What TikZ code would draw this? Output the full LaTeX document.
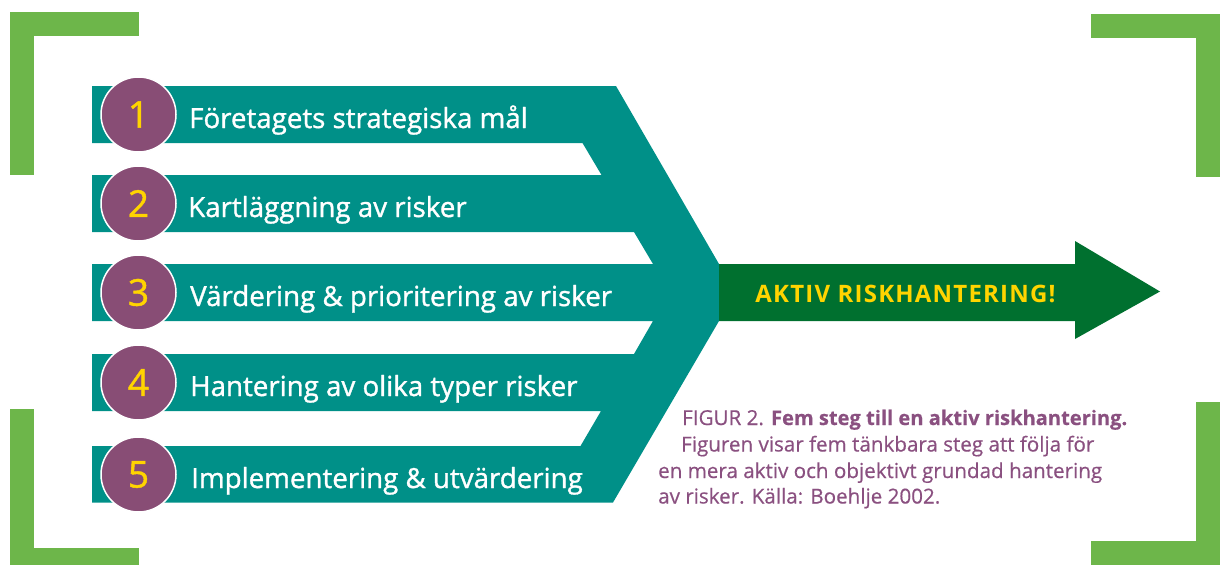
\documentclass[tikz,border=0pt]{standalone}
\usepackage{fontspec}
\setmainfont{Open Sans}
\newfontfamily\stepfont[FakeBold=1.2]{Open Sans}
\newfontfamily\capfont[FakeBold=0.5]{Open Sans}
\newfontfamily\goalfont[LetterSpace=5]{Open Sans}
\definecolor{teal1}{HTML}{009088}
\definecolor{plum}{HTML}{884D75}
\definecolor{leaf}{HTML}{6DB64A}
\definecolor{forest}{HTML}{00702F}
\definecolor{gold}{HTML}{FFD400}
\definecolor{captionplum}{HTML}{8A5080}
\tikzset{
  bracket/.style={fill=leaf, draw=none},
  numdisc/.style={circle, fill=plum, draw=white, line width=1.5pt, minimum size=75pt,
    inner sep=0pt, text=gold, font=\stepfont\fontsize{37}{37}\selectfont},
  steptext/.style={anchor=base west, text=white, inner sep=0pt, font=\stepfont\fontsize{27.7}{30}\selectfont},
  goaltext/.style={anchor=base, text=gold, inner sep=0pt, font=\goalfont\bfseries\fontsize{24}{26}\selectfont},
  captext/.style={anchor=base west, text=captionplum, inner sep=0pt, font=\capfont\fontsize{20.6}{24}\selectfont}
}
\begin{document}
\begin{tikzpicture}[x=1pt, y=-1pt]
\useasboundingbox (0,0) rectangle (1220,565);

% corner brackets
\fill[bracket] (10,12) rectangle (139,36);
\fill[bracket] (10,12) rectangle (34,175);
\fill[bracket] (10,409) rectangle (34,565);
\fill[bracket] (10,548) rectangle (139,565);
\fill[bracket] (1091,14) rectangle (1220,38);
\fill[bracket] (1196,14) rectangle (1220,177);
\fill[bracket] (1196,402) rectangle (1220,565);
\fill[bracket] (1091,541) rectangle (1220,565);

% five bands merging into one chevron
\fill[teal1] (92,86) -- (616,86) -- (719,264) -- (719,321) -- (613,502.5)
  -- (92,502.5) -- (92,446) -- (580.5,446) -- (601,411) -- (92,411)
  -- (92,354) -- (634,354) -- (653,321) -- (92,321)
  -- (92,264) -- (653,264) -- (634,232) -- (92,232)
  -- (92,175) -- (601.5,175) -- (582.5,143) -- (92,143) -- cycle;

% outgoing arrow
\fill[forest] (719,264) -- (1075,264) -- (1075,241) -- (1160,291.5)
  -- (1075,339) -- (1075,321) -- (719,321) -- cycle;
\node[goaltext] (goal) at (905.5,302) {AKTIV RISKHANTERING!};

% numbered steps
\node[numdisc] (n1) at (138.5,114.5) {1};
\node[numdisc] (n2) at (138.5,203.5) {2};
\node[numdisc] (n3) at (138.5,292.5) {3};
\node[numdisc] (n4) at (138.5,382.5) {4};
\node[numdisc] (n5) at (138.5,474.5) {5};

\node[steptext] (s1) at (189,128) {Företagets strategiska mål};
\node[steptext] (s2) at (188,217) {Kartläggning av risker};
\node[steptext] (s3) at (190,306) {Värdering \& prioritering av risker};
\node[steptext] (s4) at (190,396) {Hantering av olika typer risker};
\node[steptext] (s5) at (191,488) {Implementering \& utvärdering};

% caption
\node[captext] (c1) at (682,425) {FIGUR 2. {\bfseries\fontsize{20.1}{24}\selectfont Fem steg till en aktiv riskhantering.}};
\node[captext] (c2) at (681,451.5) {Figuren visar fem tänkbara steg att följa för};
\node[captext] (c3) at (658,478) {en mera aktiv och objektivt grundad hantering};
\node[captext] (c4) at (658,503.5) {av risker. Källa: Boehlje 2002.};
\end{tikzpicture}
\end{document}
